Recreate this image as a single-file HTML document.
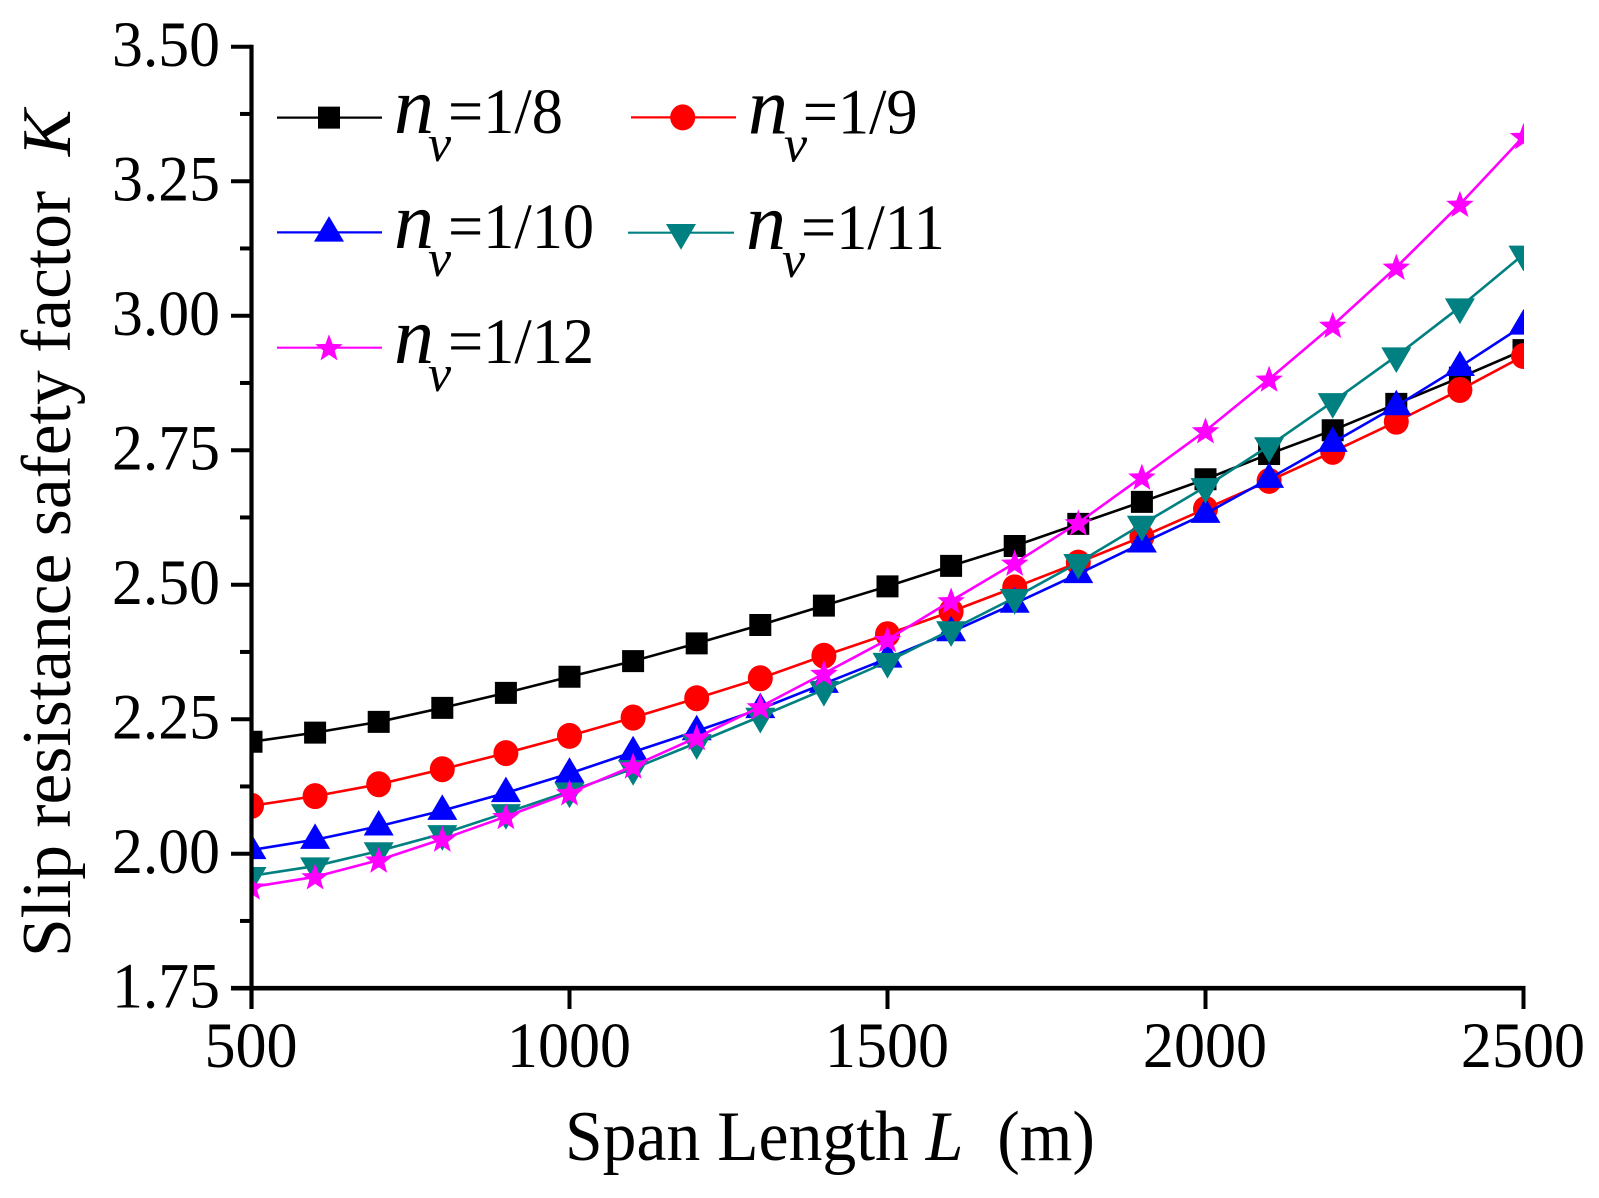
<!DOCTYPE html>
<html lang="en">
<head>
<meta charset="utf-8">
<title>Slip resistance safety factor vs span length</title>
<style>
  html, body { margin: 0; padding: 0; background: #fff; }
  svg { display: block; }
  text { font-family: "Liberation Serif", "Times New Roman", serif; fill: #000; white-space: pre; }
  .it { font-style: italic; }
</style>
</head>
<body>
<svg id="chart" xmlns="http://www.w3.org/2000/svg" width="1599" height="1198" viewBox="0 0 1599 1198">
  <rect x="0" y="0" width="1599" height="1198" fill="#fff"/>
  <defs>
    <clipPath id="plot-clip"><rect x="252" y="44" width="1272" height="946"/></clipPath>
  </defs>
  <g id="series-layer" clip-path="url(#plot-clip)"></g>
  <g id="axis-layer"></g>
  <g id="legend-layer"></g>

  <text transform="translate(565,1160) scale(0.953,1)" font-size="71">Span Length <tspan class="it">L</tspan>  (m)</text>
  <text transform="translate(70,957) rotate(-90)" font-size="69.5">Slip resistance safety factor  <tspan class="it">K</tspan></text>
</svg>
<script>
// Chart data
const spanLengths = [500,600,700,800,900,1000,1100,1200,1300,1400,1500,1600,1700,1800,1900,2000,2100,2200,2300,2400,2500];
const seriesNV8  = [2.208,2.225,2.245,2.271,2.299,2.329,2.358,2.391,2.425,2.461,2.497,2.535,2.572,2.613,2.654,2.696,2.743,2.787,2.836,2.885,2.936];
const seriesNV9  = [2.089,2.107,2.129,2.157,2.187,2.219,2.253,2.289,2.326,2.368,2.408,2.450,2.495,2.541,2.589,2.641,2.693,2.747,2.803,2.862,2.925];
const seriesNV10 = [2.007,2.026,2.051,2.080,2.113,2.149,2.189,2.228,2.269,2.316,2.363,2.412,2.465,2.520,2.577,2.632,2.697,2.764,2.832,2.905,2.982];
const seriesNV11 = [1.959,1.977,2.005,2.037,2.076,2.116,2.158,2.206,2.255,2.305,2.357,2.416,2.476,2.541,2.612,2.682,2.758,2.840,2.925,3.016,3.114];
const seriesNV12 = [1.938,1.957,1.988,2.027,2.069,2.113,2.163,2.216,2.273,2.335,2.398,2.470,2.540,2.615,2.700,2.786,2.882,2.982,3.090,3.207,3.333];
const seriesNames = ['nv-1-8','nv-1-9','nv-1-10','nv-1-11','nv-1-12'];
const seriesLabels = ['=1/8','=1/9','=1/10','=1/11','=1/12'];
const xTickLabels = ['500','1000','1500','2000','2500'];
const yTickLabels = ['1.75','2.00','2.25','2.50','2.75','3.00','3.25','3.50'];
const yMinorTicks = [1.875,2.125,2.375,2.625,2.875,3.125,3.375];

// Axis functions
const X0 = 251.5, X1 = 1523.5, Y0 = 988.2, Y1 = 46.7;
function xScale(v) { return X0 + (v - 500) / 2000 * (X1 - X0); }
function yScale(v) { return Y0 - (v - 1.75) / 1.75 * (Y0 - Y1); }

const NS = 'http://www.w3.org/2000/svg';
const seriesLayer = document.getElementById('series-layer');
const axisLayer = document.getElementById('axis-layer');
const legendLayer = document.getElementById('legend-layer');

function markerPath(shape, cx, cy) {
  if (shape === 'square') {
    return `M${cx-11} ${cy-11}H${cx+11}V${cy+11}H${cx-11}Z`;
  }
  if (shape === 'circle') {
    return `M${cx-12.5} ${cy}A12.5 13 0 1 0 ${cx+12.5} ${cy}A12.5 13 0 1 0 ${cx-12.5} ${cy}Z`;
  }
  if (shape === 'up') {
    return `M${cx} ${cy-16.3}L${cx+15} ${cy+9.2}H${cx-15}Z`;
  }
  if (shape === 'down') {
    return `M${cx} ${cy+17}L${cx+15} ${cy-8.7}H${cx-15}Z`;
  }
  let d = '';
  for (let i = 0; i < 10; i++) {
    const r = i % 2 === 0 ? 14.5 : 6;
    const a = -Math.PI / 2 + i * Math.PI / 5;
    d += (i ? 'L' : 'M') + (cx + r * Math.cos(a)).toFixed(2) + ' ' + (cy + 1 + r * Math.sin(a)).toFixed(2);
  }
  return d + 'Z';
}

const seriesValues = [seriesNV8, seriesNV9, seriesNV10, seriesNV11, seriesNV12];
const seriesColors = ['#000000', '#ff0000', '#0000ff', '#008080', '#ff00ff'];
const seriesShapes = ['square', 'circle', 'up', 'down', 'star'];

// Series lines and markers
seriesValues.forEach(function (values, s) {
  const group = document.createElementNS(NS, 'g');
  
  

  const line = document.createElementNS(NS, 'polyline');
  
  
  line.setAttribute('points', values.map(function (v, i) {
    return xScale(spanLengths[i]).toFixed(2) + ',' + yScale(v).toFixed(2);
  }).join(' '));
  line.setAttribute('fill', 'none');
  line.setAttribute('stroke', seriesColors[s]);
  line.setAttribute('stroke-width', '2.6');
  group.appendChild(line);

  values.forEach(function (v, i) {
    const mark = document.createElementNS(NS, 'path');
    
    
    mark.setAttribute('d', markerPath(seriesShapes[s], xScale(spanLengths[i]), yScale(v)));
    mark.setAttribute('fill', seriesColors[s]);
    group.appendChild(mark);
  });
  seriesLayer.appendChild(group);
});

// Axis lines
const xAxisLine = document.createElementNS(NS, 'line');


xAxisLine.setAttribute('x1', 231);
xAxisLine.setAttribute('x2', X1 + 2);
xAxisLine.setAttribute('y1', Y0);
xAxisLine.setAttribute('y2', Y0);
xAxisLine.setAttribute('stroke', '#000');
xAxisLine.setAttribute('stroke-width', '4.6');
axisLayer.appendChild(xAxisLine);

const yAxisLine = document.createElementNS(NS, 'line');


yAxisLine.setAttribute('x1', X0);
yAxisLine.setAttribute('x2', X0);
yAxisLine.setAttribute('y1', Y1 - 2);
yAxisLine.setAttribute('y2', 1009);
yAxisLine.setAttribute('stroke', '#000');
yAxisLine.setAttribute('stroke-width', '4.2');
axisLayer.appendChild(yAxisLine);

// X ticks and labels
xTickLabels.forEach(function (label) {
  const x = xScale(Number(label));
  const tick = document.createElementNS(NS, 'line');
  
  
  tick.setAttribute('x1', x);
  tick.setAttribute('x2', x);
  tick.setAttribute('y1', Y0);
  tick.setAttribute('y2', 1009);
  tick.setAttribute('stroke', '#000');
  tick.setAttribute('stroke-width', '4');
  axisLayer.appendChild(tick);

  const text = document.createElementNS(NS, 'text');
  
  
  text.setAttribute('transform', 'translate(' + (x - 0.5) + ',1067) scale(0.955,1)');
  text.setAttribute('text-anchor', 'middle');
  text.setAttribute('font-size', '65');
  text.textContent = label;
  axisLayer.appendChild(text);
});

// Y major ticks and labels
yTickLabels.forEach(function (label) {
  const y = yScale(Number(label));
  const tick = document.createElementNS(NS, 'line');
  
  
  tick.setAttribute('x1', 231);
  tick.setAttribute('x2', X0);
  tick.setAttribute('y1', y);
  tick.setAttribute('y2', y);
  tick.setAttribute('stroke', '#000');
  tick.setAttribute('stroke-width', '4');
  axisLayer.appendChild(tick);

  const text = document.createElementNS(NS, 'text');
  
  
  text.setAttribute('transform', 'translate(220,' + (y + 19.5) + ') scale(0.95,1)');
  text.setAttribute('text-anchor', 'end');
  text.setAttribute('font-size', '65');
  text.textContent = label;
  axisLayer.appendChild(text);
});

// Y minor ticks
yMinorTicks.forEach(function (value) {
  const y = yScale(value);
  const tick = document.createElementNS(NS, 'line');
  
  
  tick.setAttribute('x1', 240);
  tick.setAttribute('x2', X0);
  tick.setAttribute('y1', y);
  tick.setAttribute('y2', y);
  tick.setAttribute('stroke', '#000');
  tick.setAttribute('stroke-width', '4');
  axisLayer.appendChild(tick);
});

// Legend
const legendLineStart = [277, 631, 277, 628, 277];
const legendLineEnd   = [382, 736, 382, 734, 382];
const legendMarkerX   = [329, 682.7, 329, 681, 329];
const legendRowY      = [117.6, 117.4, 232.4, 232.7, 347.7];
const legendBaseline  = [133, 133.3, 248, 249, 363];
const legendNameX     = [394, 748, 394, 746, 394];
const legendSubX      = [428, 784, 428, 782, 428];
const legendValueX    = [448, 802.7, 448, 801, 448];

seriesLabels.forEach(function (label, s) {
  const entry = document.createElementNS(NS, 'g');
  
  

  const sample = document.createElementNS(NS, 'line');
  
  
  sample.setAttribute('x1', legendLineStart[s]);
  sample.setAttribute('x2', legendLineEnd[s]);
  sample.setAttribute('y1', legendRowY[s]);
  sample.setAttribute('y2', legendRowY[s]);
  sample.setAttribute('stroke', seriesColors[s]);
  sample.setAttribute('stroke-width', '2.2');
  entry.appendChild(sample);

  const glyph = document.createElementNS(NS, 'path');
  
  
  glyph.setAttribute('d', markerPath(seriesShapes[s], legendMarkerX[s], legendRowY[s]));
  glyph.setAttribute('fill', seriesColors[s]);
  entry.appendChild(glyph);

  const nText = document.createElementNS(NS, 'text');
  
  
  nText.setAttribute('class', 'it');
  nText.setAttribute('transform', 'translate(' + legendNameX[s] + ',' + legendBaseline[s] + ')');
  nText.setAttribute('font-size', '80');
  nText.textContent = 'n';
  entry.appendChild(nText);

  const vText = document.createElementNS(NS, 'text');
  
  
  vText.setAttribute('class', 'it');
  vText.setAttribute('transform', 'translate(' + legendSubX[s] + ',' + (legendBaseline[s] + 28) + ')');
  vText.setAttribute('font-size', '52');
  vText.textContent = 'v';
  entry.appendChild(vText);

  const valueText = document.createElementNS(NS, 'text');
  
  
  valueText.setAttribute('transform', 'translate(' + legendValueX[s] + ',' + legendBaseline[s] + ') scale(0.96,1)');
  valueText.setAttribute('font-size', '65');
  valueText.textContent = label;
  entry.appendChild(valueText);

  legendLayer.appendChild(entry);
});
</script>
</body>
</html>
